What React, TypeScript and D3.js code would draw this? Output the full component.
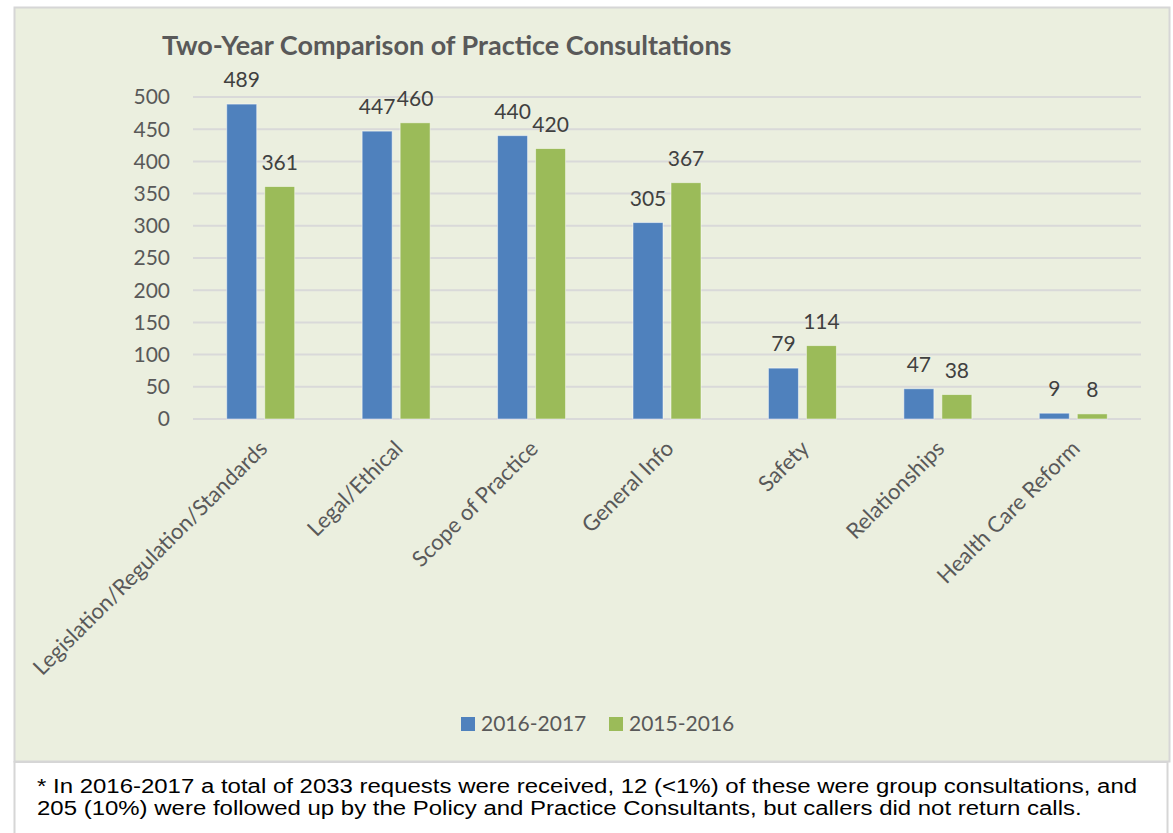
import React from "react";
import * as d3 from "d3";

const categories = [
    "Legislation/Regulation/Standards",
    "Legal/Ethical",
    "Scope of Practice",
    "General Info",
    "Safety",
    "Relationships",
    "Health Care Reform",
];
const seriesNames = ["2016-2017", "2015-2016"];
const values2016 = [489, 447, 440, 305, 79, 47, 9];
const values2015 = [361, 460, 420, 367, 114, 38, 8];
const yTicks = [0, 50, 100, 150, 200, 250, 300, 350, 400, 450, 500];
const colors = ["#4F81BD", "#9BBB59"];

const footnoteLines = [
    "* In 2016-2017 a total of 2033 requests were received, 12 (<1%) of these were group consultations, and",
    "205 (10%) were followed up by the Policy and Practice Consultants, but callers did not return calls.",
];

const W = 1173;
const H = 833;
const font = "Lato, 'Open Sans', sans-serif";

const App = () => {
    const x = d3.scaleBand<string>().domain(categories).range([193, 1141]);
    const groupWidth = 68;
    const xSub = d3
        .scaleBand<string>()
        .domain(seriesNames)
        .range([(x.bandwidth() - groupWidth) / 2, (x.bandwidth() + groupWidth) / 2])
        .paddingInner(8 / 38);
    const y = d3.scaleLinear().domain([0, 500]).range([419, 97]);

    const series = [values2016, values2015];

    return (
        <svg
            width={W}
            height={H}
            style={{ position: "absolute", left: 0, top: 0, background: "#fff" }}
        >
            {/* chart frame */}
            <rect x={14.5} y={7.5} width={1155} height={754} fill="#EBEFDF" stroke="#D6D6D6" strokeWidth={2} />
            {/* footnote frame */}
            <rect x={14.5} y={762} width={1153} height={80} fill="#fff" stroke="#D6D6D6" strokeWidth={2} />

            <text x={162} y={55} fontFamily={font} fontWeight="bold" fontSize={27} fill="#595959">
                Two-Year Comparison of Practice Consultations
            </text>

            {/* gridlines + y ticks */}
            {yTicks.map((t) => (
                <g key={t}>
                    <line x1={193} x2={1141} y1={y(t)} y2={y(t)} stroke="#D9D9D9" strokeWidth={2} />
                    <text
                        x={170}
                        y={y(t)}
                        dy="0.35em"
                        textAnchor="end"
                        fontFamily={font}
                        fontSize={21}
                        fill="#595959"
                    >
                        {t}
                    </text>
                </g>
            ))}

            {/* bars */}
            {series.map((vals, si) =>
                vals.map((v, i) => {
                    const bx = (x(categories[i]) ?? 0) + (xSub(seriesNames[si]) ?? 0);
                    return (
                        <g key={`${si}-${i}`}>
                            <rect
                                x={bx}
                                y={y(v)}
                                width={xSub.bandwidth()}
                                height={y(0) - y(v)}
                                fill={colors[si]}
                                stroke="#ffffff"
                                strokeOpacity={0.5}
                                strokeWidth={1}
                            />
                            <text
                                x={bx + xSub.bandwidth() / 2}
                                y={y(v) - 17}
                                textAnchor="middle"
                                fontFamily={font}
                                fontSize={21}
                                fill="#404040"
                            >
                                {v}
                            </text>
                        </g>
                    );
                })
            )}

            {/* category labels */}
            {categories.map((c) => {
                const cx = (x(c) ?? 0) + x.bandwidth() / 2 + 8;
                const cy = 450;
                return (
                    <text
                        key={c}
                        transform={`translate(${cx},${cy}) rotate(-45)`}
                        textAnchor="end"
                        fontFamily={font}
                        fontSize={22}
                        fill="#595959"
                    >
                        {c}
                    </text>
                );
            })}

            {/* legend */}
            {seriesNames.map((s, i) => {
                const lx = i === 0 ? 461 : 609;
                return (
                    <g key={s} transform={`translate(${lx},724)`}>
                        <rect x={0} y={-7} width={14} height={14} fill={colors[i]} />
                        <text x={20} dy="0.35em" fontFamily={font} fontSize={21} fill="#595959">
                            {s}
                        </text>
                    </g>
                );
            })}

            {/* footnote (source text is horizontally stretched) */}
            <g transform="translate(37,0) scale(1.142,1)">
                {footnoteLines.map((line, i) => (
                    <text
                        key={i}
                        x={0}
                        y={793 + i * 22}
                        fontFamily="'Liberation Sans', Arial, sans-serif"
                        fontSize={21}
                        fill="#000"
                    >
                        {line}
                    </text>
                ))}
            </g>
        </svg>
    );
};

export default App;
